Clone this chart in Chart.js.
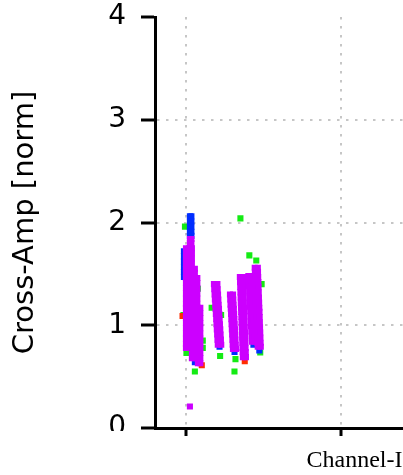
<!DOCTYPE html>
<html><head><meta charset="utf-8">
<script src="https://cdn.jsdelivr.net/npm/chart.js@4.4.0/dist/chart.umd.min.js"></script>
<style>
html,body{margin:0;padding:0;background:#fff;overflow:hidden;width:403px;height:475px;}
#wrap{position:absolute;left:0;top:0;width:605px;height:475px;}
canvas{display:block;}
</style></head><body>
<div id="wrap"><canvas id="c" width="605" height="475"></canvas></div>
<script>
const xTickValues = [0, 100, 200];
const yTickValues = [0, 1, 2, 3, 4];
const xTitle = 'Channel-Index';
const yTitle = 'Cross-Amp [norm]';

// magenta series (drawn on top)
const magentaCluster1 = [
 [2.56,1.84],[3.52,1.84],[2.56,1.80],[3.52,1.80],
 [0,1.75],[1.92,1.75],[3.84,1.75],
 [0,1.70],[1.92,1.70],[3.84,1.70],
 [0,1.65],[1.92,1.65],[3.84,1.65],
 [0,1.60],[1.92,1.60],[3.84,1.60],
 [0,1.55],[1.92,1.55],[3.84,1.55],[5.76,1.55],
 [0,1.51],[1.92,1.51],[3.84,1.51],[5.76,1.51],
 [0,1.46],[1.92,1.46],[3.84,1.46],[5.76,1.46],[7.36,1.46],
 [0,1.41],[1.92,1.41],[3.84,1.41],[5.76,1.41],[7.36,1.41],
 [0,1.36],[1.92,1.36],[3.84,1.36],[5.76,1.36],[7.36,1.36],
 [0,1.31],[1.92,1.31],[3.84,1.31],[5.76,1.31],[7.36,1.31],
 [0,1.26],[1.92,1.26],[3.84,1.26],[5.76,1.26],[7.36,1.26],
 [0,1.21],[1.92,1.21],[3.84,1.21],[5.76,1.21],[7.36,1.21],
 [0,1.17],[1.92,1.17],[3.84,1.17],[5.76,1.17],[7.68,1.17],[9.28,1.17],
 [0,1.12],[1.92,1.12],[3.84,1.12],[5.76,1.12],[7.68,1.12],[9.28,1.12],
 [0,1.07],[1.92,1.07],[3.84,1.07],[5.76,1.07],[7.68,1.07],[9.28,1.07],
 [0,1.02],[1.92,1.02],[3.84,1.02],[5.76,1.02],[7.68,1.02],[9.28,1.02],
 [0,0.97],[1.92,0.97],[3.84,0.97],[5.76,0.97],[7.68,0.97],[9.28,0.97],
 [0,0.92],[1.92,0.92],[3.84,0.92],[5.76,0.92],[7.68,0.92],[9.28,0.92],
 [0,0.87],[1.92,0.87],[3.84,0.87],[5.76,0.87],[7.68,0.87],[9.28,0.87],
 [0,0.82],[1.92,0.82],[3.84,0.82],[5.76,0.82],[7.68,0.82],[9.28,0.82],
 [0,0.78],[1.92,0.78],[3.84,0.78],[5.76,0.78],[7.68,0.78],[9.28,0.78],
 [3.84,0.73],[5.76,0.73],[7.68,0.73],[9.28,0.73],
 [3.84,0.68],[5.76,0.68],[7.68,0.68],[9.28,0.68],
 [7.68,0.63],[9.28,0.63],
 [2.56,0.21]
];
const magentaCluster2 = [
 [18.08,1.40],[20.32,1.40],[18.28,1.35],[20.52,1.35],[18.50,1.30],[20.74,1.30],
 [18.70,1.25],[20.94,1.25],[18.91,1.20],[21.15,1.20],[19.11,1.16],[21.35,1.16],
 [19.32,1.11],[21.56,1.11],[19.53,1.06],[21.77,1.06],[19.73,1.01],[21.97,1.01],
 [19.94,0.96],[22.18,0.96],[20.15,0.91],[22.39,0.91],[20.35,0.86],[22.59,0.86],
 [20.56,0.81],[22.80,0.81]
];
const magentaCluster3 = [
 [28.44,1.30],[30.44,1.30],[28.61,1.25],[30.61,1.25],[28.79,1.20],[30.79,1.20],
 [28.96,1.16],[30.96,1.16],[29.14,1.11],[31.14,1.11],[29.31,1.06],[31.31,1.06],
 [29.49,1.01],[31.49,1.01],[29.66,0.96],[31.66,0.96],[29.84,0.91],[31.84,0.91],
 [30.01,0.86],[32.01,0.86],[30.19,0.81],[32.19,0.81],[30.36,0.77],[32.36,0.77]
];
const magentaCluster4 = [
 [34.84,1.47],[36.84,1.47],[34.96,1.42],[36.96,1.42],[35.08,1.37],[37.08,1.37],
 [35.20,1.32],[37.20,1.32],[35.32,1.27],[37.32,1.27],[35.44,1.22],[37.44,1.22],
 [35.56,1.17],[37.56,1.17],[35.68,1.13],[37.68,1.13],[35.80,1.08],[37.80,1.08],
 [35.92,1.03],[37.92,1.03],[36.04,0.98],[38.04,0.98],[36.16,0.93],[38.16,0.93],
 [36.28,0.88],[38.28,0.88],[36.40,0.83],[38.40,0.83],[36.52,0.78],[38.52,0.78],
 [36.64,0.74],[38.64,0.74],[36.76,0.69],[38.76,0.69]
];
const magentaCluster5 = [
 [40.32,1.48],[42.24,1.48],[40.49,1.43],[42.41,1.43],[40.67,1.38],[42.59,1.38],
 [40.84,1.33],[42.76,1.33],[41.01,1.28],[42.93,1.28],[41.18,1.23],[43.10,1.23],
 [41.36,1.18],[43.28,1.18],[41.52,1.14],[43.44,1.14],[41.70,1.09],[43.62,1.09],
 [41.87,1.04],[43.79,1.04],[42.04,0.99],[43.96,0.99],[42.21,0.94],[44.13,0.94],
 [42.39,0.89],[44.31,0.89],[42.56,0.84],[44.48,0.84],
 [44.44,1.56],[46.44,1.56],[44.56,1.52],[46.56,1.52],[44.68,1.47],[46.68,1.47],
 [44.80,1.42],[46.80,1.42],[44.92,1.37],[46.92,1.37],[45.04,1.32],[47.04,1.32],
 [45.16,1.27],[47.16,1.27],[45.28,1.22],[47.28,1.22],[45.40,1.17],[47.40,1.17],
 [45.52,1.13],[47.52,1.13],[45.64,1.08],[47.64,1.08],[45.76,1.03],[47.76,1.03],
 [45.88,0.98],[47.88,0.98],[46.00,0.93],[48.00,0.93],[46.12,0.88],[48.12,0.88],
 [46.24,0.83],[48.24,0.83],[46.36,0.79],[48.36,0.79]
];
const bluePoints = [
 [2.56,2.06],[3.52,2.06],[2.56,2.01],[3.52,2.01],[2.56,1.96],[3.52,1.96],
 [2.56,1.91],[3.52,1.91],[2.56,1.87],[3.52,1.87],
 [-1.3,1.72],[-1.3,1.67],[-1.3,1.62],[-1.3,1.57],[-1.3,1.52],[-1.3,1.47],
 [5.76,0.64],[21.7,0.79],[31.4,0.74],[43.6,0.81],[47.4,0.755]
];
const redPoints = [
 [10.24,0.61],[38.0,0.65],[-2.2,1.09]
];
const greenPoints = [
 [-0.64,1.96],[7.68,1.355],[5.76,0.55],[35.2,2.04],[31.36,0.55],[40.96,1.68],[45.44,1.63],
 [0.32,0.73],[10.88,0.85],[10.88,0.78],[22.08,0.70],[22.72,1.10],[32.0,0.67],
 [48.9,1.40],[48.0,0.735],[-1.6,1.10],[16.6,1.17],[39.7,1.45]
];

const toXY = arr => arr.map(p => ({x: p[0], y: p[1]}));
const magentaAll = [].concat(magentaCluster1, magentaCluster2, magentaCluster3, magentaCluster4, magentaCluster5);

const pt = (label, data, color) => ({
  label, data: toXY(data), backgroundColor: color, borderColor: color,
  pointStyle: 'rect', pointRadius: 4.3, pointBorderWidth: 0, borderWidth: 0
});

const gridGray = '#c6c6c6';
const coverPlugin = {
  id: 'cover',
  afterDraw(chart) {
    const c = chart.ctx;
    c.save(); c.fillStyle = '#fff'; c.fillRect(0, 431, 138, 44); c.restore();
  }
};

new Chart(document.getElementById('c'), {
  type: 'scatter',
  data: {
    datasets: [
      pt('magenta', magentaAll, 'rgb(204,0,255)'),
      pt('blue', bluePoints, 'rgb(0,45,255)'),
      pt('red', redPoints, 'rgb(255,45,0)'),
      pt('green', greenPoints, 'rgb(20,235,20)')
    ]
  },
  options: {
    responsive: false, animation: false, devicePixelRatio: 1, events: [],
    layout: { padding: 0 },
    plugins: { legend: { display: false }, tooltip: { enabled: false } },
    scales: {
      x: {
        type: 'linear', min: -20, max: 268,
        afterBuildTicks: s => { s.ticks = xTickValues.map(v => ({ value: v })); },
        afterFit: s => { s.height = 47; },
        ticks: { display: false },
        grid: { color: gridGray, lineWidth: 2, tickLength: 8, tickColor: '#000', tickWidth: 3, tickBorderDash: [] },
        border: { display: true, color: '#000', width: 3, dash: [2.5, 6.5] },
        title: { display: true, text: xTitle, color: '#000',
          font: { family: 'Liberation Serif', size: 24 }, padding: { top: 10, bottom: 0 } }
      },
      y: {
        type: 'linear', min: 0, max: 4,
        afterBuildTicks: s => { s.ticks = yTickValues.map(v => ({ value: v })); },
        afterFit: s => { s.width = 155; s.paddingTop = 17; s.paddingBottom = 17; },
        ticks: { color: '#000', padding: 15, font: { family: 'DejaVu Sans', size: 28 } },
        grid: {
          color: ctx => (ctx.tick && (ctx.tick.value === 0 || ctx.tick.value === 4)) ? 'rgba(0,0,0,0)' : gridGray,
          lineWidth: 2, tickLength: 14, tickColor: '#000', tickWidth: 3, tickBorderDash: []
        },
        border: { display: true, color: '#000', width: 3, dash: [2.5, 6.5] },
        title: { display: true, text: yTitle, color: '#000',
          font: { family: 'DejaVu Sans', size: 29 }, padding: { top: 8, bottom: 0 } }
      }
    }
  },
  plugins: [coverPlugin]
});
</script>
</body></html>
